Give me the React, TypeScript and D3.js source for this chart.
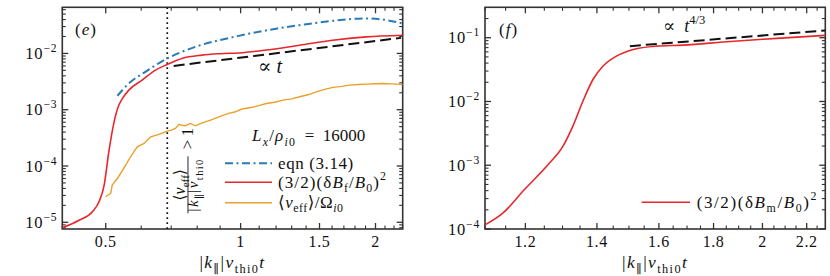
import React from 'react';
import * as d3 from 'd3';

const FONT = 'Liberation Serif, DejaVu Serif, serif';

// ---- panel (e) data ----
const eqnT = [0.531, 0.563, 0.613, 0.686, 0.793, 0.99, 1.2, 1.355, 1.607, 1.907, 2.075, 2.3];
const eqnV = [1.77e-3, 2.93e-3, 4.71e-3, 8.15e-3, 1.31e-2, 2.05e-2, 2.75e-2, 3.18e-2, 3.8e-2, 4.18e-2, 4.0e-2, 3.4e-2];

const bfT = [0.4, 0.436, 0.467, 0.483, 0.496, 0.508, 0.522, 0.535, 0.545, 0.563, 0.603, 0.646, 0.686, 0.74, 0.82, 0.9, 1.007, 1.142, 1.355, 1.605, 1.907, 2.3];
const bfV = [8.0e-6, 1.09e-5, 1.54e-5, 2.31e-5, 4.58e-5, 1.79e-4, 6.1e-4, 1.21e-3, 1.59e-3, 2.23e-3, 3.36e-3, 5.05e-3, 6.38e-3, 8.15e-3, 9.33e-3, 9.9e-3, 1.03e-2, 1.15e-2, 1.4e-2, 1.72e-2, 1.97e-2, 2.11e-2];

const nuT = [0.4996, 0.513, 0.517, 0.531, 0.554, 0.568, 0.588, 0.609, 0.63, 0.657, 0.686, 0.7, 0.715, 0.728, 0.74, 0.753, 0.772, 0.793, 0.81, 0.834, 0.86, 0.894, 0.94, 0.97, 1.007, 1.07, 1.142, 1.19, 1.244, 1.3, 1.355, 1.42, 1.476, 1.54, 1.607, 1.68, 1.75, 1.83, 1.907, 2.0, 2.075, 2.18, 2.3];
const nuV = [2.84e-5, 3.26e-5, 4.58e-5, 6.0e-5, 1.04e-4, 1.46e-4, 2.19e-4, 2.52e-4, 3.3e-4, 3.64e-4, 4.17e-4, 4.35e-4, 4.65e-4, 5.48e-4, 5.3e-4, 5.2e-4, 5.71e-4, 5.18e-4, 5.6e-4, 6.1e-4, 6.6e-4, 7.48e-4, 8.6e-4, 9.1e-4, 1.03e-3, 1.12e-3, 1.29e-3, 1.36e-3, 1.48e-3, 1.56e-3, 1.7e-3, 1.86e-3, 2.08e-3, 2.3e-3, 2.49e-3, 2.6e-3, 2.73e-3, 2.8e-3, 2.85e-3, 2.9e-3, 2.93e-3, 2.88e-3, 2.81e-3];

const slopeET = [0.709, 2.28];
const slopeEV = [6.0e-3, 1.89e-2];
const dottedT = 0.686;

const eXTicks = [0.5, 1, 1.5, 2];
const eXLabels = ['0.5', '1', '1.5', '2'];
const eYTicks = [1e-5, 1e-4, 1e-3, 1e-2];
const eYLabels = ['−5', '−4', '−3', '−2'];

// ---- panel (f) data ----
const bmT = [1.1, 1.143, 1.197, 1.264, 1.301, 1.329, 1.358, 1.388, 1.418, 1.46, 1.514, 1.592, 1.686, 1.852, 2.063, 2.29];
const bmV = [1.16e-4, 1.77e-4, 4.12e-4, 1.08e-3, 1.98e-3, 4.07e-3, 1.0e-2, 2.21e-2, 3.57e-2, 5.14e-2, 6.55e-2, 7.38e-2, 7.65e-2, 8.65e-2, 9.75e-2, 0.109];

const slopeFT = [1.503, 2.29];
const slopeFV = [7.38e-2, 0.13];

const fXTicks = [1.2, 1.4, 1.6, 1.8, 2, 2.2];
const fXLabels = ['1.2', '1.4', '1.6', '1.8', '2', '2.2'];
const fYTicks = [1e-4, 1e-3, 1e-2, 1e-1];
const fYLabels = ['−4', '−3', '−2', '−1'];

type Seg = { t: string; i?: boolean; sub?: boolean; sup?: boolean };

function MathText({ x, y, segs, size, anchor = 'start', ls = 0 }: { x: number; y: number; segs: Seg[]; size: number; anchor?: string; ls?: number }) {
  let cur = 0;
  return (
    <text x={x} y={y} textAnchor={anchor} fill="#111" style={{ fontFamily: FONT, fontSize: size, letterSpacing: ls }}>
      {segs.map((s, k) => {
        const target = s.sub ? size * 0.28 : s.sup ? -size * 0.42 : 0;
        const dy = target - cur;
        cur = target;
        return (
          <tspan key={k} dy={dy} style={{ fontSize: s.sub || s.sup ? size * 0.7 : size, fontStyle: s.i ? 'italic' : 'normal' }}>
            {s.t}
          </tspan>
        );
      })}
    </text>
  );
}

const xLabelSegs: Seg[] = [{ t: '|' }, { t: 'k', i: true }, { t: '∥', sub: true }, { t: '|' }, { t: 'v', i: true }, { t: 'thi0', sub: true }, { t: 't', i: true }];

function logMinor(dom: number[]) {
  const out: number[] = [];
  for (let e = Math.floor(Math.log10(dom[0])); e <= Math.ceil(Math.log10(dom[1])); e++) {
    for (let k = 2; k <= 9; k++) {
      const v = k * Math.pow(10, e);
      if (v >= dom[0] && v <= dom[1]) out.push(v);
    }
  }
  return out;
}

function Frame({ xs, ys, xMajor, xLabels, xMinor, yMajor, yLabels, id }: any) {
  const [x0, x1] = xs.range();
  const [y1, y0] = ys.range();
  const yMinor = logMinor(ys.domain());
  const tc = '#333';
  const LM = 6, Lm = 3.5;
  return (
    <g>
      {xMinor.map((v: number, k: number) => (
        <g key={'xm' + k} stroke={tc} strokeWidth={1.1}>
          <line x1={xs(v)} x2={xs(v)} y1={y1} y2={y1 - Lm} />
          <line x1={xs(v)} x2={xs(v)} y1={y0} y2={y0 + Lm} />
        </g>
      ))}
      {xMajor.map((v: number, k: number) => (
        <g key={'xM' + k}>
          <line x1={xs(v)} x2={xs(v)} y1={y1} y2={y1 - LM} stroke={tc} strokeWidth={1.3} />
          <line x1={xs(v)} x2={xs(v)} y1={y0} y2={y0 + LM} stroke={tc} strokeWidth={1.3} />
          <MathText x={xs(v)} y={y1 + 18} size={16} ls={0.6} anchor="middle" segs={[{ t: xLabels[k] }]} />
        </g>
      ))}
      {yMinor.map((v: number, k: number) => (
        <g key={'ym' + k} stroke={tc} strokeWidth={1.1}>
          <line x1={x0} x2={x0 + Lm} y1={ys(v)} y2={ys(v)} />
          <line x1={x1} x2={x1 - Lm} y1={ys(v)} y2={ys(v)} />
        </g>
      ))}
      {yMajor.map((v: number, k: number) => (
        <g key={'yM' + k}>
          <line x1={x0} x2={x0 + LM} y1={ys(v)} y2={ys(v)} stroke={tc} strokeWidth={1.3} />
          <line x1={x1} x2={x1 - LM} y1={ys(v)} y2={ys(v)} stroke={tc} strokeWidth={1.3} />
          <MathText x={x0 - 5} y={ys(v) + 5.5} size={16.5} ls={0.8} anchor="end" segs={[{ t: '10' }, { t: yLabels[k], sup: true }]} />
        </g>
      ))}
      <rect x={x0} y={y0} width={x1 - x0} height={y1 - y0} fill="none" stroke={tc} strokeWidth={1.6} />
      <MathText x={(x0 + x1) / 2} y={268} size={17.5} ls={1.4} anchor="middle" segs={xLabelSegs} />
      <clipPath id={id}>
        <rect x={x0} y={y0} width={x1 - x0} height={y1 - y0} />
      </clipPath>
    </g>
  );
}

const RED = '#e8262c';
const BLUE = '#2a7ab8';
const ORANGE = '#e8a12a';

export default function App() {
  const top = 7.3, bottom = 229;
  const exs = d3.scaleLog().domain([0.4, 2.3]).range([62.3, 402.7]);
  const eys = d3.scaleLog().domain([7.6e-6, 0.066]).range([bottom, top]);
  const fxs = d3.scaleLog().domain([1.1, 2.29]).range([485, 825.3]);
  const fys = d3.scaleLog().domain([1e-4, 0.3]).range([bottom, top]);

  const lineE = d3.line<number[]>().x(d => exs(d[0])).y(d => eys(d[1])).curve(d3.curveMonotoneX);
  const lineEraw = d3.line<number[]>().x(d => exs(d[0])).y(d => eys(d[1]));
  const lineF = d3.line<number[]>().x(d => fxs(d[0])).y(d => fys(d[1])).curve(d3.curveMonotoneX);
  const lineFraw = d3.line<number[]>().x(d => fxs(d[0])).y(d => fys(d[1]));
  const zip = (a: number[], b: number[]) => a.map((v, i) => [v, b[i]]);

  const eMinorX = d3.range(4, 24).map(v => v / 10).filter(v => !eXTicks.some(t => Math.abs(t - v) < 1e-9));
  const fMinorX = d3.range(22, 46).map(v => v / 20).filter(v => !fXTicks.some(t => Math.abs(t - v) < 1e-9));

  const legX0 = 225, legX1 = 272, legT = 278;
  const fracX = exs(dottedT) + 20.7;

  return (
    <svg width={830} height={276} style={{ position: 'absolute', left: 0, top: 0, background: '#fff', fontFamily: FONT }}>
      <rect width={830} height={276} fill="#fff" />
      {/* panel (e) */}
      <Frame xs={exs} ys={eys} xMajor={eXTicks} xLabels={eXLabels} xMinor={eMinorX} yMajor={eYTicks} yLabels={eYLabels} id="clipE" />
      <g clipPath="url(#clipE)" fill="none">
        <line x1={exs(dottedT)} x2={exs(dottedT)} y1={top} y2={bottom} stroke="#111" strokeWidth={1.7} strokeDasharray="1.7,3.3" />
        <path d={lineE(zip(eqnT, eqnV)) || ''} stroke={BLUE} strokeWidth={2} strokeDasharray="8,3.5,2,3.5" />
        <path d={lineE(zip(bfT, bfV)) || ''} stroke={RED} strokeWidth={1.6} />
        <path d={lineEraw(zip(nuT, nuV)) || ''} stroke={ORANGE} strokeWidth={1.4} />
        <path d={lineEraw(zip(slopeET, slopeEV)) || ''} stroke="#111" strokeWidth={2} strokeDasharray="11,5" />
      </g>
      <MathText x={75} y={35} size={17} ls={1} segs={[{ t: '(' }, { t: 'e', i: true }, { t: ')' }]} />
      <MathText x={258} y={73} size={20} segs={[{ t: '∝ ' }, { t: 't', i: true }]} />
      <text x={252} y={141} fill="#111" style={{ fontFamily: FONT, fontSize: 17 }}>
        <tspan style={{ letterSpacing: 1.2 }}>
          <tspan style={{ fontStyle: 'italic' }}>L</tspan>
          <tspan dy={4.8} style={{ fontStyle: 'italic', fontSize: 11.9 }}>x</tspan>
          <tspan dy={-4.8}>/</tspan>
          <tspan style={{ fontStyle: 'italic' }}>ρ</tspan>
          <tspan dy={4.8} style={{ fontStyle: 'italic', fontSize: 11.9 }}>i</tspan>
          <tspan style={{ fontSize: 11.9 }}>0</tspan>
        </tspan>
        <tspan dy={-4.8}>{'\u2002=\u2002'}</tspan>
        <tspan>16000</tspan>
      </text>
      <line x1={legX0} x2={legX1} y1={163.3} y2={163.3} stroke={BLUE} strokeWidth={2} strokeDasharray="8,3.5,2,3.5" />
      <line x1={legX0} x2={legX1} y1={182.3} y2={182.3} stroke={RED} strokeWidth={1.6} />
      <line x1={legX0} x2={legX1} y1={202.7} y2={202.7} stroke={ORANGE} strokeWidth={1.6} />
      <MathText x={legT} y={168.5} size={17} ls={0.6} segs={[{ t: 'eqn (3.14)' }]} />
      <MathText x={legT} y={187.5} size={17} ls={1.1} segs={[{ t: '(3/2)(δ' }, { t: 'B', i: true }, { t: 'f', sub: true }, { t: '/' }, { t: 'B', i: true }, { t: '0', sub: true }, { t: ')' }, { t: '2', sup: true }]} />
      <MathText x={legT} y={207.5} size={17} ls={0.5} segs={[{ t: '⟨' }, { t: 'ν', i: true }, { t: 'eff', sub: true }, { t: '⟩/Ω' }, { t: 'i', i: true, sub: true }, { t: '0', sub: true }]} />
      <g transform={`translate(${fracX}, 213.3) rotate(-90)`}>
        <line x1={0} x2={57} y1={0} y2={0} stroke="#111" strokeWidth={0.9} />
        <MathText x={28.5} y={-3} size={16} anchor="middle" segs={[{ t: '⟨' }, { t: 'ν', i: true }, { t: 'eff', sub: true }, { t: '⟩' }]} />
        <MathText x={28.5} y={10.5} size={15} ls={1.4} anchor="middle" segs={[{ t: '|' }, { t: 'k', i: true }, { t: '∥', sub: true }, { t: '|' }, { t: 'v', i: true }, { t: 'thi0', sub: true }]} />
        <MathText x={64} y={5} size={17} segs={[{ t: '>\u2009' }, { t: '1' }]} />
      </g>

      {/* panel (f) */}
      <Frame xs={fxs} ys={fys} xMajor={fXTicks} xLabels={fXLabels} xMinor={fMinorX} yMajor={fYTicks} yLabels={fYLabels} id="clipF" />
      <g clipPath="url(#clipF)" fill="none">
        <path d={lineF(zip(bmT, bmV)) || ''} stroke={RED} strokeWidth={1.6} />
        <path d={lineFraw(zip(slopeFT, slopeFV)) || ''} stroke="#111" strokeWidth={2} strokeDasharray="11,5" />
      </g>
      <MathText x={499} y={35} size={17} ls={1} segs={[{ t: '(' }, { t: 'f', i: true }, { t: ')' }]} />
      <MathText x={663} y={32} size={18} segs={[{ t: '∝\u2002' }, { t: 't', i: true }, { t: '4/3', sup: true }]} />
      <line x1={641.7} x2={690} y1={202.3} y2={202.3} stroke={RED} strokeWidth={1.6} />
      <MathText x={696.7} y={207.5} size={17} ls={1.6} segs={[{ t: '(3/2)(δ' }, { t: 'B', i: true }, { t: 'm', sub: true }, { t: '/' }, { t: 'B', i: true }, { t: '0', sub: true }, { t: ')' }, { t: '2', sup: true }]} />
    </svg>
  );
}
